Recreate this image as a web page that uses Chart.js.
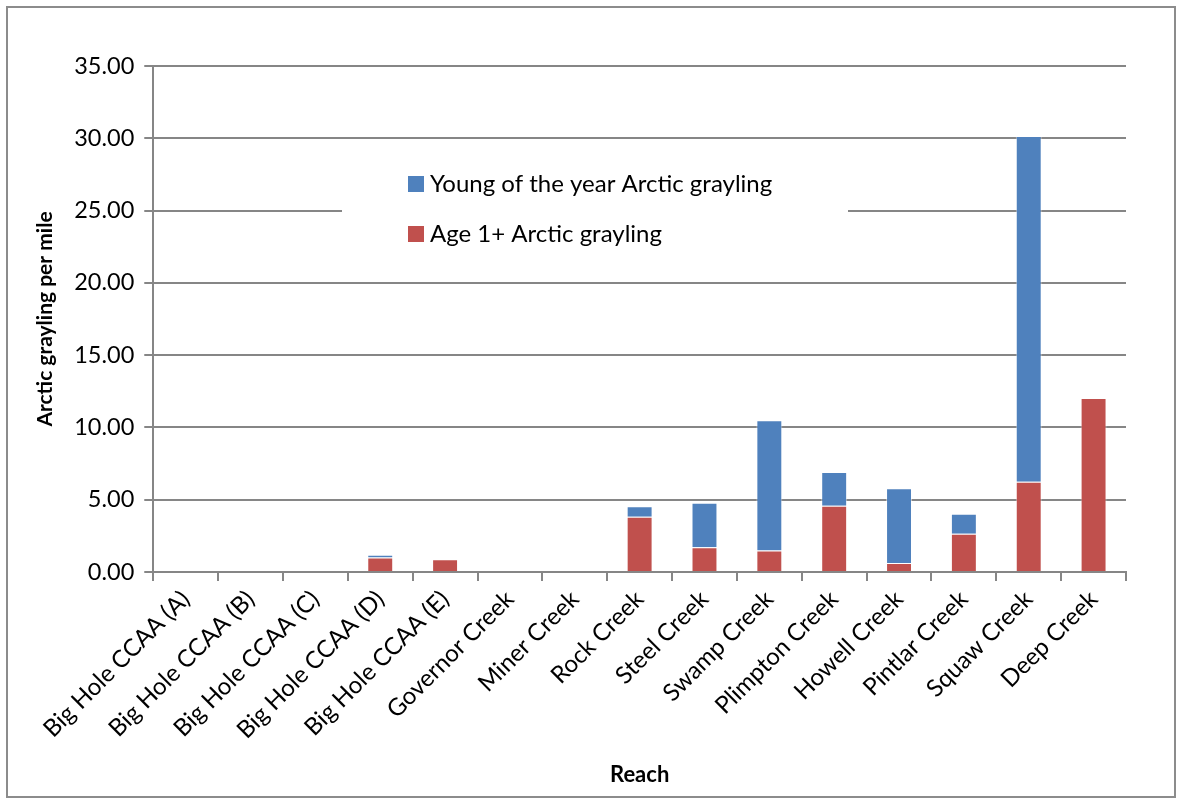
<!DOCTYPE html>
<html>
<head>
<meta charset="utf-8">
<script src="https://cdn.jsdelivr.net/npm/chart.js@4/dist/chart.umd.min.js"></script>
<style>
  html, body { margin: 0; padding: 0; background: #fff; }
  #wrap { position: absolute; left: 6px; top: 6px; width: 1170px; height: 792px; border: 2px solid #8c8c8c; box-sizing: border-box; }
  canvas { display: block; }
</style>
</head>
<body>
<div id="wrap"><canvas id="chart"></canvas></div>
<script>
// 하천 구간별 데이터
const reaches = ['Big Hole CCAA (A)', 'Big Hole CCAA (B)', 'Big Hole CCAA (C)', 'Big Hole CCAA (D)',
  'Big Hole CCAA (E)', 'Governor Creek', 'Miner Creek', 'Rock Creek', 'Steel Creek', 'Swamp Creek',
  'Plimpton Creek', 'Howell Creek', 'Pintlar Creek', 'Squaw Creek', 'Deep Creek'];
const age1Plus = [0, 0, 0, 1.01, 0.88, 0, 0, 3.82, 1.71, 1.48, 4.58, 0.62, 2.65, 6.24, 12.04];
const youngOfYear = [0, 0, 0, 0.19, 0, 0, 0, 0.72, 3.08, 9.02, 2.33, 5.18, 1.38, 23.92, 0];
const yTicks = [0, 5, 10, 15, 20, 25, 30, 35];

const FONT = 'Lato, "Open Sans", sans-serif';
const GRID = '#868686';

// 범례를 흰 상자로 그리기 (원본처럼 격자선 위에)
const boxLegend = {
    id: 'boxLegend',
    afterDraw(chart) {
        const ctx = chart.ctx;
        const x0 = 334, y0 = 142;
        ctx.save();
        ctx.fillStyle = '#fff';
        ctx.fillRect(x0, y0, 506, 112);
        const items = chart.data.datasets.slice().reverse();
        ctx.font = '24px ' + FONT;
        ctx.textBaseline = 'middle';
        items.forEach((ds, i) => {
            const y = y0 + 34 + i * 50;
            ctx.fillStyle = ds.backgroundColor;
            ctx.fillRect(x0 + 66, y - 8, 16, 16);
            ctx.fillStyle = '#000';
            ctx.fillText(ds.label, x0 + 88, y);
        });
        ctx.restore();
    }
};

const ctx = document.getElementById('chart').getContext('2d');
new Chart(ctx, {
    type: 'bar',
    data: {
        labels: reaches,
        datasets: [{
            label: 'Age 1+ Arctic grayling',
            data: age1Plus,
            backgroundColor: '#C0504D',
            borderColor: 'rgba(255,255,255,0.5)',
            borderWidth: 1,
            barPercentage: 0.4,
            categoryPercentage: 1
        }, {
            label: 'Young of the year Arctic grayling',
            data: youngOfYear,
            backgroundColor: '#4F81BD',
            borderColor: 'rgba(255,255,255,0.5)',
            borderWidth: 1,
            barPercentage: 0.4,
            categoryPercentage: 1
        }]
    },
    options: {
        responsive: true,
        maintainAspectRatio: false,
        animation: false,
        layout: { padding: { left: 25, right: 48, top: 58, bottom: 8 } },
        plugins: {
            legend: { display: false },
            tooltip: { enabled: false }
        },
        scales: {
            x: {
                stacked: true,
                afterFit: axis => { axis.height = 216; },
                grid: { drawOnChartArea: false, color: GRID, lineWidth: 2, tickLength: 9, offset: true },
                border: { color: GRID, width: 2 },
                ticks: {
                    color: '#000',
                    font: { family: FONT, size: 24 },
                    minRotation: 45,
                    maxRotation: 45,
                    padding: 4
                },
                title: {
                    display: true,
                    text: 'Reach',
                    color: '#000',
                    font: { family: FONT, size: 22, weight: 'bold' },
                    padding: { top: 4, bottom: 0 }
                }
            },
            y: {
                stacked: true,
                min: 0,
                max: 35,
                afterBuildTicks: axis => { axis.ticks = yTicks.map(v => ({ value: v })); },
                grid: { color: GRID, lineWidth: 2, tickLength: 9 },
                border: { color: GRID, width: 2 },
                ticks: {
                    color: '#000',
                    font: { family: FONT, size: 23.5 },
                    padding: 10,
                    callback: v => v.toFixed(2)
                },
                title: {
                    display: true,
                    text: 'Arctic grayling per mile',
                    color: '#000',
                    font: { family: FONT, size: 21, weight: 'bold' },
                    padding: { top: 0, bottom: 6 }
                }
            }
        }
    },
    plugins: [boxLegend]
});
</script>
</body>
</html>
